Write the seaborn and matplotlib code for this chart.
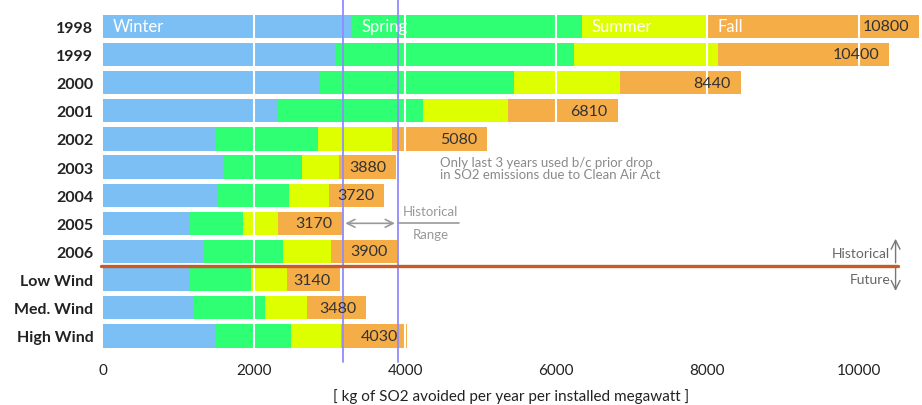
import matplotlib
matplotlib.use("Agg")
import matplotlib.pyplot as plt
import seaborn as sns
import numpy as np
import pandas as pd

# kg of SO2 avoided per year per installed MW, split by season
rows = ["1998", "1999", "2000", "2001", "2002", "2003", "2004", "2005", "2006",
        "Low Wind", "Med. Wind", "High Wind"]
winter = [3290, 3080, 2860, 2300, 1480, 1590, 1510, 1140, 1320, 1140, 1210, 1480]
spring = [3050, 3150, 2580, 1940, 1360, 1040, 950, 710, 1060, 820, 940, 1010]
summer = [1660, 1910, 1400, 1120, 980, 500, 530, 460, 640, 480, 550, 660]
fall = [2800, 2260, 1600, 1450, 1260, 750, 730, 860, 880, 700, 780, 880]
totals = [10800, 10400, 8440, 6810, 5080, 3880, 3720, 3170, 3900, 3140, 3480, 4030]
seasons = ["Winter", "Spring", "Summer", "Fall"]
colors = ["#7cbff5", "#2eff73", "#ddff00", "#f5ad48"]
hist_range = [3170, 3900]
x_ticks = [0, 2000, 4000, 6000, 8000, 10000]

sns.set_style("white")
plt.rcParams["font.family"] = ["Lato", "DejaVu Sans"]

df = pd.DataFrame({"row": rows, "Winter": winter, "Spring": spring,
                   "Summer": summer, "Fall": fall})
cum = df[seasons].cumsum(axis=1)

fig = plt.figure(figsize=(9.22, 4.06), dpi=100)
ax = fig.add_axes([103 / 922, 48 / 406, 816 / 922, 356 / 406])

# stacked bars: draw cumulative sums from the outside in
for s, c in reversed(list(zip(seasons, colors))):
    sns.barplot(x=cum[s], y=df["row"], color=c, width=0.83, linewidth=0,
                saturation=1, errorbar=None, orient="h", ax=ax, zorder=2)

ax.set_xlim(0, 10800)
ax.set_ylim(11.75, -0.9)

# white grid over the bars
for v in x_ticks[1:]:
    ax.axvline(v, color="white", lw=1.5, zorder=3)

# historical range lines
for v in hist_range:
    ax.axvline(v, ymin=-0.015, ymax=1.01, color="#8f8cff", lw=1.3, zorder=4, clip_on=False)

# totals
for i, t in enumerate(totals):
    ax.annotate(f"{t}", xy=(t, i), xytext=(-7, 0), textcoords="offset points",
                ha="right", va="center", fontsize=11.5, color="#333333", zorder=5)

# season names in the first bar
starts = [0] + list(cum.iloc[0, :-1])
for s, st in zip(seasons, starts):
    ax.annotate(s, xy=(st, 0), xytext=(7, 0), textcoords="offset points",
                ha="left", va="center", fontsize=12, color="white", zorder=5)

# historical / future split
ax.plot([-25, 10520], [8.5, 8.5], color="#c85a28", lw=2.4, clip_on=False, zorder=6)
ax.annotate("", xy=(10490, 7.45), xytext=(10490, 8.5),
            arrowprops=dict(arrowstyle="->", color="#777777", lw=1, mutation_scale=16))
ax.annotate("", xy=(10490, 9.5), xytext=(10490, 8.5),
            arrowprops=dict(arrowstyle="->", color="#777777", lw=1, mutation_scale=16))
ax.text(10420, 8.05, "Historical", ha="right", va="center", fontsize=10, color="#666666")
ax.text(10420, 8.97, "Future", ha="right", va="center", fontsize=10, color="#666666")

# historical range marker
ax.annotate("", xy=(hist_range[0], 7), xytext=(hist_range[1], 7),
            arrowprops=dict(arrowstyle="<->", color="#999999", lw=1.2, mutation_scale=14),
            zorder=5)
ax.plot([hist_range[1], 4710], [7, 7], color="#999999", lw=1.2, zorder=5)
ax.text(4340, 6.57, "Historical", ha="center", va="center", fontsize=9.5, color="#999999")
ax.text(4340, 7.38, "Range", ha="center", va="center", fontsize=9.5, color="#999999")

ax.text(4460, 5.02, "Only last 3 years used b/c prior drop\nin SO2 emissions due to Clean Air Act",
        ha="left", va="center", fontsize=9.5, color="#8a8a8a", linespacing=1.0)

ax.set_xticks(x_ticks)
ax.set_xticklabels([str(v) for v in x_ticks], fontsize=11, color="#222222")
ax.set_yticks(range(len(rows)))
ax.set_yticklabels(rows, fontsize=11.5, color="#222222", fontweight="bold")
ax.tick_params(axis="y", length=0, pad=7)
ax.tick_params(axis="x", length=0, pad=4)
ax.set_ylabel("")
ax.set_xlabel("[ kg of SO2 avoided per year per installed megawatt ]", fontsize=11,
              color="#222222", labelpad=8)
sns.despine(ax=ax, left=True, bottom=True)

fig.savefig("out.png", dpi=100)
